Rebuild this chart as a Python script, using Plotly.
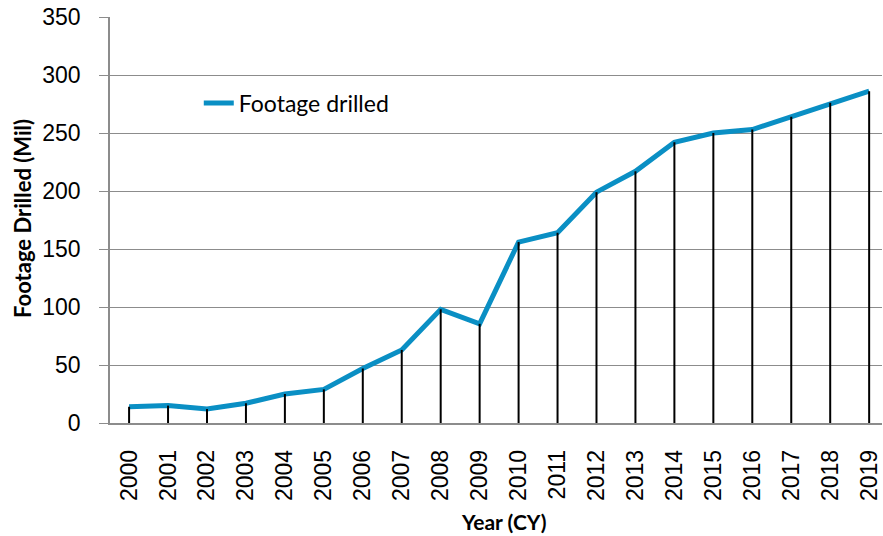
import plotly.graph_objects as go

years = [2000, 2001, 2002, 2003, 2004, 2005, 2006, 2007, 2008, 2009,
         2010, 2011, 2012, 2013, 2014, 2015, 2016, 2017, 2018, 2019]
footage = [14, 15, 12, 17, 25, 29, 47, 63, 98, 85.5,
           156, 164, 199, 217, 242, 250, 253, 264, 276, 286]
tick_labels = [str(y) for y in years]
y_ticks = [0, 50, 100, 150, 200, 250, 300, 350]

# drop lines built from the data
drop_x, drop_y = [], []
for x, v in zip(years, footage):
    drop_x += [x, x, None]
    drop_y += [0, v, None]

GRID = "#8c8c8c"
BLUE = "#0a8fc4"

fig = go.Figure()
fig.add_trace(go.Scatter(x=years, y=footage, mode="lines", name="Footage drilled",
                         line=dict(color=BLUE, width=5)))
fig.add_trace(go.Scatter(x=drop_x, y=drop_y, mode="lines", showlegend=False,
                         line=dict(color="black", width=2), hoverinfo="skip"))

fig.update_layout(
    width=883, height=536,
    margin=dict(l=110, r=1, t=17, b=113, autoexpand=False),
    plot_bgcolor="white", paper_bgcolor="white",
    font=dict(family="Liberation Sans", size=23, color="black"),
    legend=dict(x=0.115, y=0.788, xanchor="left", yanchor="middle",
                bgcolor="rgba(0,0,0,0)", font=dict(family="Lato", size=23)),
    xaxis=dict(range=[1999.51, 2019.33], tickvals=years, ticktext=tick_labels,
               tickangle=-90, showgrid=False, zeroline=False, showline=True,
               linecolor=GRID, linewidth=1.5, ticks="", ticklabelstandoff=16,
               automargin=False,
               tickfont=dict(family="Liberation Sans", size=23)),
    yaxis=dict(range=[0, 350], tickvals=y_ticks, showgrid=True, gridcolor=GRID,
               gridwidth=1.3, zeroline=False, showline=True, linecolor=GRID,
               linewidth=1.5, ticks="outside", ticklen=9, tickcolor=GRID,
               tickwidth=1.3, ticklabelstandoff=14, automargin=False,
               tickfont=dict(family="Liberation Sans", size=23)),
    annotations=[
        dict(text="<b>Footage Drilled (Mil)</b>", xref="paper", yref="paper",
             x=-0.1127, y=0.505, xanchor="center", yanchor="middle",
             textangle=-90, showarrow=False, font=dict(family="Lato", size=22)),
        dict(text="<b>Year (CY)</b>", xref="paper", yref="paper",
             x=0.51, y=-0.243, xanchor="center", yanchor="middle",
             showarrow=False, font=dict(family="Lato", size=21)),
    ],
)

fig.write_html("out.html", config={"displayModeBar": False},
               post_script="document.body.style.margin='0';document.body.style.overflow='hidden';")
